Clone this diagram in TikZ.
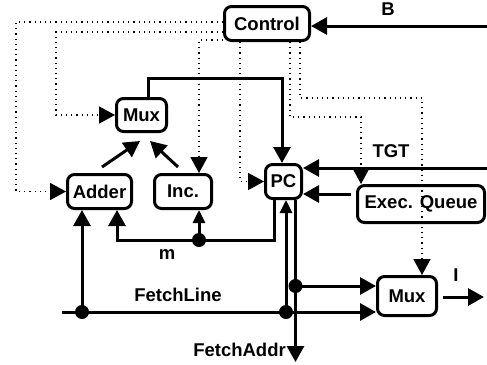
\documentclass[tikz,border=0pt]{standalone}
\usepackage{fontspec}
\setmainfont{Liberation Sans}
\usetikzlibrary{arrows.meta}
\begin{document}
\begin{tikzpicture}[x=1pt,y=-1pt,
  txt/.style={font=\bfseries\fontsize{18.5}{22}\selectfont},
  box/.style={txt, draw, line width=3pt, rounded corners=7pt, inner sep=0pt},
  lbl/.style={txt, inner sep=0pt},
  wire/.style={line width=3pt},
  arr/.style={wire, -{Triangle[length=16pt,width=17pt]}},
  narrowarr/.style={wire, -{Triangle[length=13pt,width=12pt]}},
  ctl/.style={line width=1.6pt, dash pattern=on 1.2pt off 4pt, -{Triangle[length=16pt,width=17pt]}},
  dot/.style={circle, fill, inner sep=0pt, minimum size=14pt}
]
\useasboundingbox (0,0) rectangle (487,364);
% boxes
\node[box, minimum width=85pt, minimum height=34pt] (Control) at (267,23.5) {Control};
\node[box, minimum width=50pt, minimum height=33pt] (Mux) at (141.5,115) {Mux};
\node[box, minimum width=64pt, minimum height=34pt] (Adder) at (99.5,191.5) {Adder};
\node[box, minimum width=57pt, minimum height=34pt] (Inc) at (183,191.5) {Inc.};
\node[box, minimum width=36pt, minimum height=34pt] (PC) at (283.5,181.5) {PC};
\node[box, minimum width=127pt, minimum height=37pt] (Exec) at (421,204) {Exec. Queue};
\node[box, minimum width=59pt, minimum height=39pt] (BMux) at (407,296) {Mux};
% labels
\node[lbl] (lB) at (388,9) {B};
\node[lbl] (lTGT) at (391,151.5) {TGT};
\node[lbl] (lm) at (167,255) {m};
\node[lbl] (lFL) at (178,294.5) {FetchLine};
\node[lbl, anchor=east] (lFA) at (286,350) {FetchAddr};
\node[lbl] (lI) at (456,275) {I};
% coordinates
\coordinate (bin) at (487,26);
\coordinate (tin) at (487,168);
\coordinate (eqs) at (351,194);
\coordinate (d1) at (16,22);
\coordinate (d2) at (56,32);
\coordinate (d3) at (199,40);
\coordinate (d4) at (240,0);
\coordinate (d5) at (290,117);
\coordinate (d5b) at (361,117);
\coordinate (d6) at (300,98);
\coordinate (d6b) at (422,98);
\coordinate (mp) at (148,78);
\coordinate (mp2) at (282,78);
\coordinate (mdot) at (199,240);
\coordinate (fl) at (62,312);
\coordinate (fd1) at (82,312);
\coordinate (fd2) at (286,312);
\coordinate (fd3) at (295.5,286);
\coordinate (fa) at (295.5,362);
\coordinate (is) at (443,297);
\coordinate (io) at (484,297);
% solid connectors
\draw[arr] (bin) -- (bin -| Control.east);
\draw[arr] (tin) -- (tin -| PC.east);
\draw[arr] (eqs) -- (eqs -| PC.east);
\draw[arr] (mp |- Mux.north) -- (mp) -- (mp2) -- (mp2 |- PC.north);
\draw[arr] ([xshift=2.5pt,yshift=6pt]Adder.north) -- ([xshift=-1.5pt,yshift=-8pt]Mux.south);
\draw[arr] ([xshift=-5pt,yshift=6pt]Inc.north) -- ([xshift=8.5pt,yshift=-8pt]Mux.south);
\draw[arr] ([xshift=-9.5pt]PC.south) |- (mdot) -| ([xshift=17.5pt]Adder.south);
\draw[narrowarr] (mdot) -- (mdot |- Inc.south);
\draw[arr] (fl) -- (fl -| BMux.west);
\draw[arr] (fd1) -- (fd1 |- Adder.south);
\draw[narrowarr] (fd2) -- (fd2 |- PC.south);
\draw[arr] (fa |- PC.south) -- (fa);
\draw[arr] (fd3) -- (fd3 -| BMux.west);
\draw[arr] (is) -- (io);
\node[dot] (dm) at (mdot) {};
\node[dot] (df1) at (fd1) {};
\node[dot] (df2) at (fd2) {};
\node[dot] (df3) at (fd3) {};
% control (dotted) connectors
\draw[ctl] (d1 -| Control.west) -- (d1) |- (Adder.west);
\draw[ctl] (d2 -| Control.west) -- (d2) |- (Mux.west);
\draw[ctl] (d3 -| Control.west) -- (d3) -- (d3 |- Inc.north);
\draw[ctl] (d4 |- Control.south) |- (PC.west);
\draw[ctl] (d5 |- Control.south) -- (d5) -- (d5b) -- (d5b |- Exec.north);
\draw[ctl] (d6 |- Control.south) -- (d6) -- (d6b) -- (d6b |- BMux.north);
\end{tikzpicture}
\end{document}
